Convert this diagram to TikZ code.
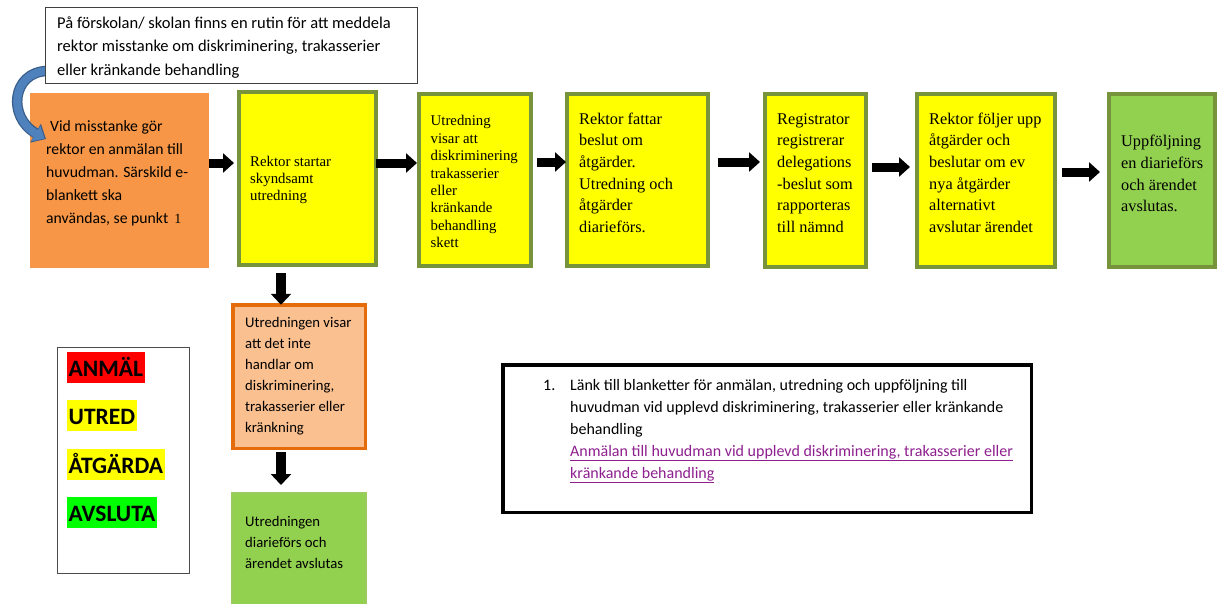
\documentclass[tikz,border=0pt]{standalone}
\usepackage{fontspec}
\setmainfont{Liberation Serif}
\newfontfamily\calibri{Carlito}
\usetikzlibrary{arrows.meta}
\definecolor{orangeA}{HTML}{F79646}
\definecolor{yellowA}{HTML}{FFFF00}
\definecolor{oliveA}{HTML}{77933C}
\definecolor{greenA}{HTML}{92D050}
\definecolor{greenB}{HTML}{9ACB5E}
\definecolor{peachA}{HTML}{FAC090}
\definecolor{peachB}{HTML}{E46C0A}
\definecolor{blueA}{HTML}{4F81BD}
\definecolor{blueB}{HTML}{385D8A}
\definecolor{linkA}{HTML}{8E1F8E}
\definecolor{legRed}{HTML}{FF0000}
\definecolor{legGreen}{HTML}{00FF00}
\pgfdeclarelayer{front}
\pgfsetlayers{main,front}
\tikzset{
  box/.style={rectangle, inner sep=0pt, outer sep=0pt, anchor=north west},
  ybox/.style={box, fill=yellowA, draw=oliveA, line width=4pt},
  sansL/.style={font=\calibri\fontsize{16.2}{23.2}\selectfont, anchor=north west, inner sep=0pt, align=left},
  sansS/.style={font=\calibri\fontsize{14.7}{21}\selectfont, anchor=north west, inner sep=0pt, align=left},
  serifL/.style={font=\fontsize{16.3}{21.7}\selectfont, anchor=north west, inner sep=0pt, align=left},
  serifS/.style={font=\fontsize{14.8}{17.4}\selectfont, anchor=north west, inner sep=0pt, align=left},
  blk/.style={draw=black, line width=9pt, -{Triangle[length=11pt,width=19pt]}},
  blkv/.style={draw=black, line width=10.5pt, -{Triangle[length=11pt,width=20pt]}},
  leg/.style={anchor=south west, inner xsep=1.5pt, inner ysep=0pt, text height=25pt, text depth=6pt,
    font=\calibri\bfseries\fontsize{23.5}{28}\selectfont},
}
\begin{document}
\begin{tikzpicture}[x=1pt,y=-1pt]
\useasboundingbox (0,0) rectangle (1218,603);
\fill[white] (0,0) rectangle (1218,603);

% top note (in front of the curved arrow)
\begin{pgfonlayer}{front}
\node[box, fill=white, draw=black!75, line width=1pt, minimum width=372pt, minimum height=76pt] (note) at (45.5,7.5) {};
\node[sansL, font=\calibri\fontsize{16.5}{23.5}\selectfont] (notetext) at (57,11.5) {\strut På förskolan/ skolan finns en rutin för att meddela\\rektor misstanke om diskriminering, trakasserier\\eller kränkande behandling};
\end{pgfonlayer}

% main row
\node[box, fill=orangeA, minimum width=179pt, minimum height=175pt] (or) at (30,93) {};
\node[sansL, font=\calibri\fontsize{15.7}{23}\selectfont] (ortext) at (46,114.9) {\strut\hspace{4pt}Vid misstanke gör\\rektor en anmälan till\\huvudman. Särskild e-\\blankett ska\\användas, se punkt\hspace{6pt}{\rmfamily\fontsize{14}{17}\selectfont 1}};

\node[ybox, minimum width=137pt, minimum height=173pt] (b1) at (239,92) {};
\node[serifS] (b1text) at (250,153.8) {\strut Rektor startar\\skyndsamt\\utredning};

\node[ybox, minimum width=112pt, minimum height=172pt] (b2) at (419,94) {};
\node[serifS] (b2text) at (430.5,113.5) {\strut Utredning\\visar att\\diskriminering\\trakasserier\\eller\\kränkande\\behandling\\skett};

\node[ybox, minimum width=141pt, minimum height=172pt] (b3) at (567,94) {};
\node[serifL] (b3text) at (579,108.8) {\strut Rektor fattar\\beslut om\\åtgärder.\\Utredning och\\åtgärder\\diarieförs.};

\node[ybox, minimum width=101pt, minimum height=173pt] (b4) at (765,94) {};
\node[serifL] (b4text) at (777,108.8) {\strut Registrator\\registrerar\\delegations\\-beslut som\\rapporteras\\till nämnd};

\node[ybox, minimum width=138pt, minimum height=173pt] (b5) at (917,94) {};
\node[serifL] (b5text) at (929,108.8) {\strut Rektor följer upp\\åtgärder och\\beslutar om ev\\nya åtgärder\\alternativt\\avslutar ärendet};

\node[box, fill=greenA, draw=oliveA, line width=4pt, minimum width=106pt, minimum height=173pt] (b6) at (1109,94) {};
\node[serifL] (b6text) at (1121,131.5) {\strut Uppföljning\\en diarieförs\\och ärendet\\avslutas.};

% lower branch
\node[box, fill=peachA, draw=peachB, line width=3.5pt, minimum width=132.5pt, minimum height=143.5pt] (lo) at (232.75,304.75) {};
\node[sansS] (lotext) at (245,312.6) {\strut Utredningen visar\\att det inte\\handlar om\\diskriminering,\\trakasserier eller\\kränkning};

\node[box, fill=greenA, draw=greenB, line width=2pt, minimum width=134pt, minimum height=120pt] (lg) at (232,493) {};
\node[sansS] (lgtext) at (245,511.3) {\strut Utredningen\\diarieförs och\\ärendet avslutas};

% legend
\node[box, draw=black!70, line width=1pt, minimum width=132pt, minimum height=226pt] (legend) at (57.5,347.5) {};
\node[leg, fill=legRed] (l1) at (67,383) {ANMÄL};
\node[leg, fill=yellowA] (l2) at (67,431) {UTRED};
\node[leg, fill=yellowA] (l3) at (67,480) {ÅTGÄRDA};
\node[leg, fill=legGreen] (l4) at (67,528) {AVSLUTA};

% link box
\node[box, draw=black, line width=3.5pt, minimum width=528.5pt, minimum height=147.5pt] (link) at (502.75,364.75) {};
\node[sansL, font=\calibri\fontsize{16}{22}\selectfont] (linknum) at (543,374.6) {\strut 1.};
\node[sansL, font=\calibri\fontsize{16}{22}\selectfont] (linktext) at (570,374.6) {\strut Länk till blanketter för anmälan, utredning och uppföljning till\\huvudman vid upplevd diskriminering, trakasserier eller kränkande\\behandling\\\textcolor{linkA}{\underline{Anmälan till huvudman vid upplevd diskriminering, trakasserier eller}}\\\textcolor{linkA}{\underline{kränkande behandling}}};

% curved blue arrow from note to orange box
\draw[blueB, line width=10.5pt, -{Triangle[length=12pt,width=21pt]}]
  ([xshift=1.5pt,yshift=-25.5pt]note.west) .. controls (12,72) and (7,117) .. ([xshift=16pt,yshift=-46pt]or.north west);
\draw[blueA, line width=8pt, -{Triangle[length=10pt,width=17.5pt]}]
  ([xshift=1.5pt,yshift=-25.5pt]note.west) .. controls (12,72) and (7,117) .. ([xshift=14.5pt,yshift=-45.5pt]or.north west);

% block arrows
\draw[blk, shorten >=5pt] ([yshift=17.5pt]or.east) -- ([yshift=15.5pt]b1.west);
\draw[blk, shorten >=2pt] ([yshift=15.5pt]b1.east) -- ([yshift=17pt]b2.west);
\draw[blk, shorten <=6pt, shorten >=1pt] ([yshift=18pt]b2.east) -- ([yshift=18pt]b3.west);
\draw[blk, shorten <=10pt, shorten >=5pt] ([yshift=18pt]b3.east) -- ([yshift=18.5pt]b4.west);
\draw[blk, shorten <=6pt, shorten >=7pt] ([yshift=13.5pt]b4.east) -- ([yshift=13.5pt]b5.west);
\draw[blk, shorten <=7pt, shorten >=9pt] ([yshift=8.5pt]b5.east) -- ([yshift=8.5pt]b6.west);
\draw[blkv, shorten <=8pt] ([xshift=-26.5pt]b1.south) -- ([xshift=-18pt]lo.north);
\draw[blkv, shorten <=4pt, shorten >=8pt] ([xshift=-18pt]lo.south) -- ([xshift=-18pt]lg.north);
\end{tikzpicture}
\end{document}
